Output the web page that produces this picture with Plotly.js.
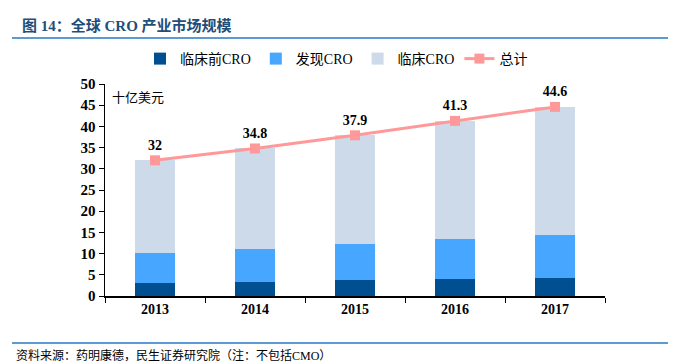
<!DOCTYPE html>
<html><head><meta charset="utf-8">
<script src="https://cdn.plot.ly/plotly-3.0.1.min.js"></script>
<style>html,body{margin:0;padding:0;background:#fff}#c{width:684px;height:364px}</style>
</head><body><div id="c"></div>
<script>
const years = ['2013','2014','2015','2016','2017'];
const preclinical = [3.1, 3.4, 3.7, 3.9, 4.3];
const discovery = [7.1, 7.7, 8.6, 9.5, 10.2];
const clinical = [21.8, 23.7, 25.6, 27.9, 30.1];
const total = [32, 34.8, 37.9, 41.3, 44.6];
const totalLabels = ['32','34.8','37.9','41.3','44.6'];

const serif = 'Liberation Serif, Times New Roman, serif';
const cjk = 'Liberation Serif, Noto Sans CJK SC, serif';

const traces = [
  {type:'bar', name:'临床前CRO', x:years, y:preclinical, marker:{color:'#004F91'}},
  {type:'bar', name:'发现CRO', x:years, y:discovery, marker:{color:'#47A6FF'}},
  {type:'bar', name:'临床CRO', x:years, y:clinical, marker:{color:'#CCDAE9'}},
  {type:'scatter', mode:'lines+markers+text', name:'总计', x:years, y:total,
   text:totalLabels, textposition:'top center',
   textfont:{family:serif, size:14, color:'#000', weight:'bold'},
   line:{color:'#FF9999', width:3}, marker:{color:'#FF9999', symbol:'square', size:10}}
];

const layout = {
  width:684, height:364,
  margin:{l:105, r:79, t:84, b:68},
  barmode:'stack', bargap:0.6,
  paper_bgcolor:'#fff', plot_bgcolor:'#fff',
  font:{family:cjk, color:'#000'},
  showlegend:true,
  legend:{orientation:'h', x:0.07, xanchor:'left', y:(296-59)/212, yanchor:'middle',
    font:{family:cjk, size:14, color:'#000'}, traceorder:'normal', itemwidth:30},
  xaxis:{type:'category', showline:true, linecolor:'#000', linewidth:1.5,
    ticks:'outside', tickson:'boundaries', ticklen:5, tickcolor:'#000',
    tickfont:{family:serif, size:14, color:'#000', weight:'bold'}, showgrid:false},
  yaxis:{range:[0,50], dtick:5, showline:true, linecolor:'#000', linewidth:1.5,
    ticks:'outside', ticklen:5, tickcolor:'#000', showgrid:false, zeroline:false,
    tickfont:{family:serif, size:15, color:'#000', weight:'bold'}},
  shapes:[
    {type:'line', xref:'paper', yref:'paper', x0:-0.186, x1:1.126, y0:(296-38)/212, y1:(296-38)/212,
     line:{color:'#5B9BD5', width:2}},
    {type:'line', xref:'paper', yref:'paper', x0:-0.186, x1:1.126, y0:(296-343)/212, y1:(296-343)/212,
     line:{color:'#5B9BD5', width:2}}
  ],
  annotations:[
    {text:'<b>图 14：全球 CRO 产业市场规模</b>', xref:'paper', yref:'paper',
     x:(20-105)/500, y:(296-26)/212, xanchor:'left', yanchor:'middle', showarrow:false,
     font:{family:cjk, size:15, color:'#1F4E79'}},
    {text:'十亿美元', xref:'paper', yref:'paper', x:(110-105)/500, y:(296-97)/212,
     xanchor:'left', yanchor:'middle', showarrow:false, font:{family:cjk, size:13, color:'#000'}},
    {text:'资料来源：药明康德，民生证券研究院（注：不包括CMO）', xref:'paper', yref:'paper',
     x:(14-105)/500, y:(296-355)/212, xanchor:'left', yanchor:'middle', showarrow:false,
     font:{family:cjk, size:12, color:'#000'}}
  ]
};
Plotly.newPlot('c', traces, layout, {displayModeBar:false, staticPlot:true});
</script></body></html>
